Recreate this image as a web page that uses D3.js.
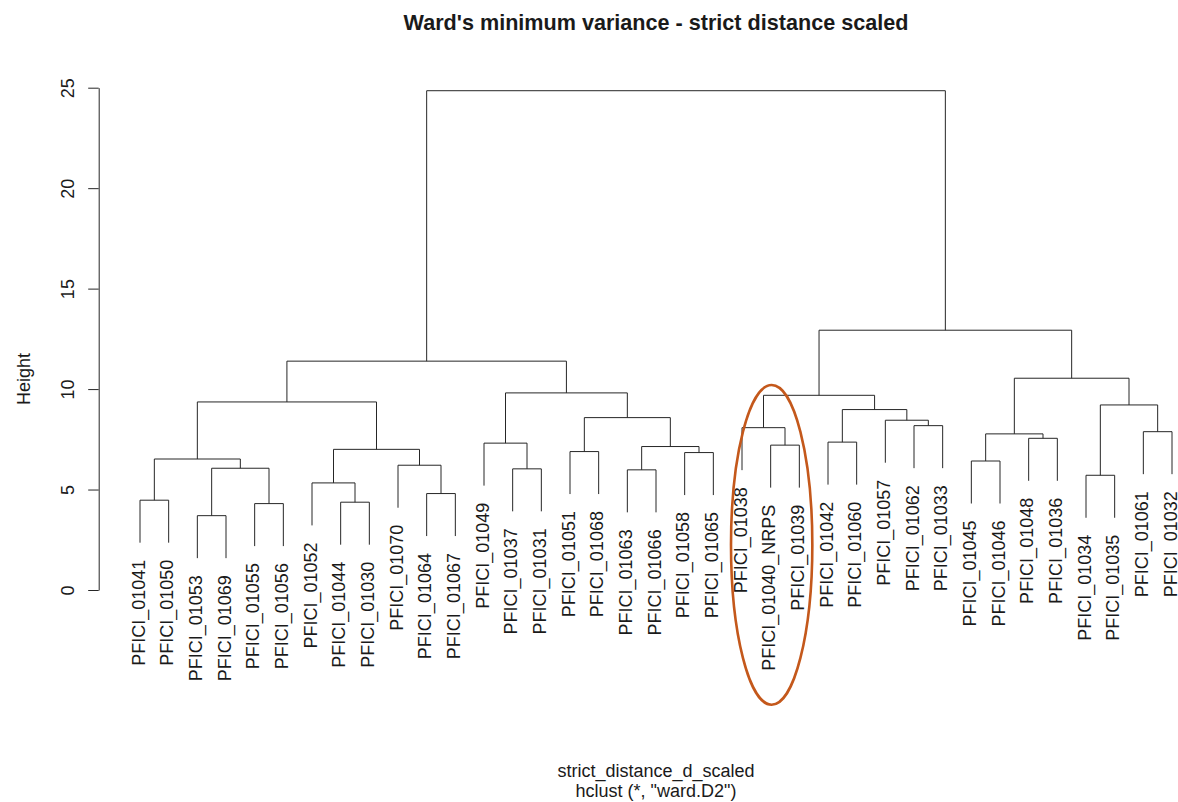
<!DOCTYPE html>
<html>
<head>
<meta charset="utf-8">
<script src="https://cdn.jsdelivr.net/npm/d3@7"></script>
<style>
  body { margin: 0; background: #fff; }
  svg { display: block; font-family: "Liberation Sans", Arial, sans-serif; }
</style>
</head>
<body>
<div id="chart"></div>
<script>
const leafLabels = [
  "PFICI_01041", "PFICI_01050", "PFICI_01053", "PFICI_01069", "PFICI_01055",
  "PFICI_01056", "PFICI_01052", "PFICI_01044", "PFICI_01030", "PFICI_01070",
  "PFICI_01064", "PFICI_01067", "PFICI_01049", "PFICI_01037", "PFICI_01031",
  "PFICI_01051", "PFICI_01068", "PFICI_01063", "PFICI_01066", "PFICI_01058",
  "PFICI_01065", "PFICI_01038", "PFICI_01040_NRPS", "PFICI_01039", "PFICI_01042",
  "PFICI_01060", "PFICI_01057", "PFICI_01062", "PFICI_01033", "PFICI_01045",
  "PFICI_01046", "PFICI_01048", "PFICI_01036", "PFICI_01034", "PFICI_01035",
  "PFICI_01061", "PFICI_01032",
];

// hclust-style merge rows: negative = leaf position (1-based), positive = earlier row
const merges = [
  [-3, -4], [-5, -6], [-8, -9], [-1, -2], [-11, -12], [-7, 3],
  [-34, -35], [-18, -19], [-14, -15], [1, 2], [-10, 5], [-30, -31],
  [4, 10], [-20, -21], [-16, -17], [6, 11], [8, 14], [-23, -24],
  [-13, 9], [-25, -26], [-32, -33], [12, 21], [-36, -37], [-22, 18],
  [-28, -29], [-27, 25], [15, 17], [20, 26], [7, 23], [13, 16],
  [24, 28], [19, 27], [22, 29], [30, 32], [31, 33], [34, 35],
];

const mergeHeights = [
  3.70, 4.30, 4.37, 4.47, 4.80, 5.33,
  5.71, 5.98, 6.03, 6.06, 6.21, 6.42,
  6.52, 6.84, 6.89, 7.00, 7.14, 7.21,
  7.31, 7.36, 7.55, 7.77, 7.88, 8.08,
  8.18, 8.45, 8.58, 8.98, 9.21, 9.36,
  9.69, 9.81, 10.54, 11.39, 12.93, 24.85,
];

const yTicks = [0, 5, 10, 15, 20, 25];
const highlightedLeaves = ["PFICI_01038", "PFICI_01040_NRPS", "PFICI_01039"];
const highlightTop = 10.2;

const titleText = "Ward's minimum variance - strict distance scaled";
const subTitleLines = ["strict_distance_d_scaled", 'hclust (*, "ward.D2")'];
const yLabelText = "Height";

const width = 1178;
const height = 802;
const plotLeft = 98.7;
const plotRight = 1213.3;
const plotCenter = (plotLeft + plotRight) / 2;

const svg = d3
  .select("#chart")
  .append("svg")
  .attr("width", width)
  .attr("height", height)
  .attr("viewBox", [0, 0, width, height]);

const x = d3.scaleLinear().domain([1, leafLabels.length]).range([140, 1172]);
const y = d3.scaleLinear().domain([0, 25]).range([590, 87.7]);

// R's plot.hclust: leaves hang 10% of the height range below their parent
const hang = 0.1 * (d3.max(mergeHeights) - d3.min(mergeHeights));

const nodeX = [];
const leafTip = [];
const refX = (ref) => (ref < 0 ? x(-ref) : nodeX[ref - 1]);
const refTop = (ref, h) => (ref < 0 ? h - hang : mergeHeights[ref - 1]);

merges.forEach(([a, b], i) => {
  nodeX[i] = (refX(a) + refX(b)) / 2;
  [a, b].forEach((ref) => {
    if (ref < 0) leafTip[-ref - 1] = mergeHeights[i] - hang;
  });
});

// Branches
svg
  .append("g")
  .attr("fill", "none")
  .attr("stroke", "#262626")
  .attr("stroke-width", 1)
  .selectAll("path")
  .data(merges)
  .join("path")
  .attr("d", ([a, b], i) => {
    const h = mergeHeights[i];
    return `M${refX(a)},${y(refTop(a, h))}V${y(h)}H${refX(b)}V${y(refTop(b, h))}`;
  });

// Leaf labels, rotated, ending just below each leaf tip
const labels = svg
  .append("g")
  .attr("font-size", 18)
  .attr("fill", "#1a1a1a")
  .selectAll("text")
  .data(leafLabels)
  .join("text")
  .attr("transform", (d, i) => `translate(${x(i + 1)},${y(leafTip[i]) + 17}) rotate(-90)`)
  .attr("text-anchor", "end")
  .attr("dy", "0.26em")
  .text((d) => d);

// Y axis
const yAxis = d3.axisLeft(y).tickValues(yTicks).tickSize(10.5).tickSizeOuter(0);

const axisG = svg
  .append("g")
  .attr("transform", `translate(${plotLeft},0)`)
  .call(yAxis);

axisG.select(".domain").attr("stroke", "#262626");
axisG.selectAll(".tick line").attr("stroke", "#262626");
axisG
  .selectAll(".tick text")
  .attr("font-size", 18)
  .attr("font-family", "Liberation Sans, Arial, sans-serif")
  .attr("fill", "#1a1a1a")
  .attr("x", null)
  .attr("dy", null)
  .attr("text-anchor", "middle")
  .attr("transform", "translate(-30.7,0) rotate(-90) translate(0,6.3)");

svg
  .append("text")
  .attr("transform", `translate(29.5,379) rotate(-90)`)
  .attr("text-anchor", "middle")
  .attr("font-size", 18)
  .attr("fill", "#1a1a1a")
  .text(yLabelText);

// Titles
svg
  .append("text")
  .attr("x", plotCenter)
  .attr("y", 30)
  .attr("text-anchor", "middle")
  .attr("font-size", 21.6)
  .attr("font-weight", "bold")
  .attr("fill", "#1a1a1a")
  .text(titleText);

svg
  .append("g")
  .selectAll("text")
  .data(subTitleLines)
  .join("text")
  .attr("x", plotCenter)
  .attr("y", (d, i) => 777 + i * 19.5)
  .attr("text-anchor", "middle")
  .attr("font-size", 18)
  .attr("fill", "#1a1a1a")
  .text((d) => d);

// Hand-drawn style highlight around the NRPS cluster
const hiIdx = highlightedLeaves.map((d) => leafLabels.indexOf(d));
const hiXs = hiIdx.map((i) => x(i + 1));
const labelEnds = [];
labels
  .filter((d) => highlightedLeaves.includes(d))
  .each(function (d) {
    const i = leafLabels.indexOf(d);
    labelEnds.push(y(leafTip[i]) + 17 + this.getComputedTextLength());
  });

const ellTop = y(highlightTop);
const ellBottom = d3.max(labelEnds) + 34;

svg
  .append("ellipse")
  .attr("cx", d3.mean(hiXs) + 1)
  .attr("cy", (ellTop + ellBottom) / 2)
  .attr("rx", (d3.max(hiXs) - d3.min(hiXs)) / 2 + 12)
  .attr("ry", (ellBottom - ellTop) / 2)
  .attr("fill", "none")
  .attr("stroke", "#c4581b")
  .attr("stroke-width", 2.6);
</script>
</body>
</html>
